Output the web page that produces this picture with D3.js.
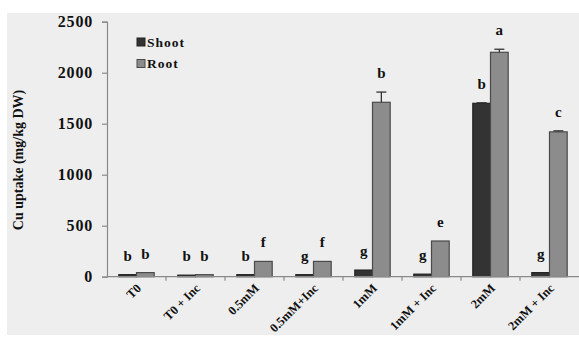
<!DOCTYPE html>
<html>
<head>
<meta charset="utf-8">
<script src="https://cdn.jsdelivr.net/npm/d3@7/dist/d3.min.js"></script>
<style>
  html, body { margin: 0; padding: 0; background: #ffffff; }
  svg { display: block; }
  text { font-family: "Liberation Serif", "DejaVu Serif", serif; font-weight: bold; fill: #111; }
</style>
</head>
<body>
<svg id="chart" width="579" height="338"></svg>
<script>
// Treatments along the x axis
const categories = ["T0", "T0 + Inc", "0.5mM", "0.5mM+Inc", "1mM", "1mM + Inc", "2mM", "2mM + Inc"];
// Cu uptake (mg/kg DW)
const shootValues = [20, 15, 20, 20, 65, 25, 1700, 40];
const rootValues  = [40, 20, 150, 150, 1710, 350, 2200, 1420];
const shootErrors = [0, 0, 0, 0, 0, 0, 5, 0];
const rootErrors  = [0, 0, 0, 0, 100, 0, 30, 10];
// Significance letters
const shootLetters = ["b", "b", "b", "g", "g", "g", "b", "g"];
const rootLetters  = ["b", "b", "f", "f", "b", "e", "a", "c"];
const yTicks = [0, 500, 1000, 1500, 2000, 2500];
const seriesNames = ["Shoot", "Root"];
const seriesColors = ["#333333", "#8c8c8c"];
const seriesStroke = ["#222222", "#4a4a4a"];

const svg = d3.select("#chart");

// plot panel background
svg.append("rect").attr("x", 7).attr("y", 13).attr("width", 572).attr("height", 322)
  .attr("fill", "#eeeeee");

const x0 = 107, x1 = 579, yTop = 21.7, yBottom = 276.7;

const x = d3.scaleBand().domain(categories).range([x0, x1]).paddingInner(0).paddingOuter(0);
const inner = d3.scaleBand().domain(seriesNames).range([x.bandwidth() * 0.2, x.bandwidth() * 0.8]).padding(0);
const y = d3.scaleLinear().domain([0, 2500]).range([yBottom, yTop]);

const data = categories.map((c, i) => ({
  cat: c,
  vals: [
    { s: "Shoot", v: shootValues[i], e: shootErrors[i], l: shootLetters[i], k: 0 },
    { s: "Root", v: rootValues[i], e: rootErrors[i], l: rootLetters[i], k: 1 }
  ]
}));

// y axis
const yAxis = d3.axisLeft(y).tickValues(yTicks).tickSize(5).tickPadding(9).tickFormat(d3.format("d"));
const gy = svg.append("g").attr("transform", `translate(${x0},0)`).call(yAxis);
gy.select(".domain").attr("stroke", "#8a8a8a").attr("stroke-width", 1.2);
gy.selectAll(".tick line").attr("stroke", "#8a8a8a").attr("stroke-width", 1.2);
gy.selectAll(".tick text").style("font-size", "16px").style("letter-spacing", "0.8px")
  .attr("font-family", null).attr("fill", "#111");

// bars
const groups = svg.append("g").selectAll("g").data(data).join("g")
  .attr("transform", d => `translate(${x(d.cat)},0)`);

groups.selectAll("rect").data(d => d.vals).join("rect")
  .attr("x", d => inner(d.s))
  .attr("y", d => y(d.v))
  .attr("width", inner.bandwidth())
  .attr("height", d => y(0) - y(d.v))
  .attr("fill", d => seriesColors[d.k])
  .attr("stroke", d => seriesStroke[d.k])
  .attr("stroke-width", 1.2);

// error bars
const err = groups.selectAll("g.err").data(d => d.vals.filter(v => v.e > 0)).join("g").attr("class", "err");
err.append("line")
  .attr("x1", d => inner(d.s) + inner.bandwidth() / 2)
  .attr("x2", d => inner(d.s) + inner.bandwidth() / 2)
  .attr("y1", d => y(d.v))
  .attr("y2", d => y(d.v + d.e))
  .attr("stroke", "#333").attr("stroke-width", 1.3);
err.append("line")
  .attr("x1", d => inner(d.s) + inner.bandwidth() / 2 - 5)
  .attr("x2", d => inner(d.s) + inner.bandwidth() / 2 + 5)
  .attr("y1", d => y(d.v + d.e))
  .attr("y2", d => y(d.v + d.e))
  .attr("stroke", "#333").attr("stroke-width", 1.3);

// significance letters
groups.selectAll("text.letter").data(d => d.vals).join("text").attr("class", "letter")
  .attr("x", d => inner(d.s) + inner.bandwidth() / 2)
  .attr("y", d => y(d.v + d.e) - 14)
  .attr("text-anchor", "middle")
  .style("font-size", "15px")
  .text(d => d.l);

// x axis
const xAxisLine = svg.append("g");
xAxisLine.append("line").attr("x1", x0).attr("x2", x1).attr("y1", yBottom).attr("y2", yBottom)
  .attr("stroke", "#8a8a8a").attr("stroke-width", 1.2);
xAxisLine.selectAll("line.tick").data(categories.slice(1)).join("line").attr("class", "tick")
  .attr("x1", d => x(d)).attr("x2", d => x(d))
  .attr("y1", yBottom).attr("y2", yBottom + 4)
  .attr("stroke", "#8a8a8a").attr("stroke-width", 1.2);

xAxisLine.selectAll("text").data(categories).join("text")
  .attr("transform", d => `translate(${x(d) + x.bandwidth() / 2},${yBottom + 7}) rotate(-45)`)
  .attr("text-anchor", "end")
  .attr("dy", "0.6em")
  .style("font-size", "12.5px")
  .text(d => d);

// y axis title
svg.append("text")
  .attr("transform", `translate(23,160) rotate(-90)`)
  .attr("text-anchor", "middle")
  .style("font-size", "14px")
  .text("Cu uptake (mg/kg DW)");

// legend
const legend = svg.append("g").attr("transform", "translate(137,38)");
const li = legend.selectAll("g").data(seriesNames).join("g")
  .attr("transform", (d, i) => `translate(0,${i * 21.5})`);
li.append("rect").attr("x", 0).attr("y", 0).attr("width", 8).attr("height", 8)
  .attr("fill", (d, i) => seriesColors[i]).attr("stroke", (d, i) => seriesStroke[i]).attr("stroke-width", 1);
li.append("text").attr("x", 10).attr("y", 4).attr("dy", "0.35em")
  .style("font-size", "13.5px").style("letter-spacing", "1px")
  .text(d => d);
</script>
</body>
</html>
